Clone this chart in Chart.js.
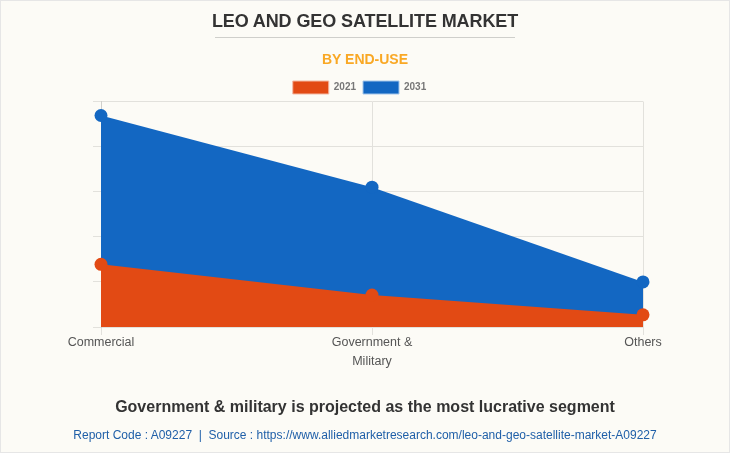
<!DOCTYPE html>
<html lang="en">
<head>
    <meta charset="UTF-8">
    <title>LEO and GEO Satellite Market</title>
    <script src="https://cdn.jsdelivr.net/npm/chart.js"></script>
    <style>
        html, body {
            margin: 0;
            padding: 0;
            background: #fcfbf6;
        }
        .frame {
            position: relative;
            width: 730px;
            height: 453px;
            box-sizing: border-box;
            border: 1px solid #e6e6e6;
            overflow: hidden;
            font-family: 'Liberation Sans', Arial, sans-serif;
        }
        .frame div {
            position: absolute;
            left: -1px;
            width: 730px;
            text-align: center;
            white-space: nowrap;
        }
        .title {
            top: 10px;
            font-size: 18px;
            line-height: 21px;
            font-weight: bold;
            letter-spacing: -0.1px;
            color: #333333;
        }
        .rule {
            top: 36px;
            height: 1px;
            background: #cfcfcb;
            left: 214px !important;
            width: 300px !important;
        }
        .subtitle {
            top: 49px;
            font-size: 14px;
            line-height: 18px;
            font-weight: bold;
            color: #f9a825;
        }
        .headline {
            top: 396px;
            font-size: 16px;
            line-height: 20px;
            font-weight: bold;
            color: #333333;
        }
        .source {
            top: 426px;
            font-size: 12px;
            line-height: 16px;
            color: #1f5fa8;
        }
        canvas {
            position: absolute;
            left: -1px;
            top: -1px;
        }
    </style>
</head>
<body>
    <div class="frame">
        <canvas id="marketChart" width="730" height="453"></canvas>
        <div class="title">LEO AND GEO SATELLITE MARKET</div>
        <div class="rule"></div>
        <div class="subtitle">BY END-USE</div>
        <div class="headline">Government &amp; military is projected as the most lucrative segment</div>
        <div class="source">Report Code : A09227&nbsp; |&nbsp; Source : https://www.alliedmarketresearch.com/leo-and-geo-satellite-market-A09227</div>
    </div>

    <script>
        // values, y axis has no printed labels
        const categories = [['Commercial'], ['Government &', 'Military'], ['Others']];
        const values2021 = [1.39, 0.71, 0.27];
        const values2031 = [4.69, 3.10, 1.00];

        const red = '#e24a14';
        const blue = '#1367c2';
        const gridColor = '#e2e1dc';

        function series(label, data, color, legendBorder) {
            return {
                label: label,
                data: data,
                fill: 'origin',
                tension: 0,
                clip: false,
                backgroundColor: color,
                borderColor: color,
                borderWidth: 0,
                pointRadius: 6.5,
                pointHoverRadius: 6.5,
                pointBackgroundColor: color,
                pointBorderColor: color,
                pointBorderWidth: 0,
                legendBorder: legendBorder
            };
        }

        // legend needs wider item gaps without pushing the plot down
        const legendHeight = {
            id: 'legendHeight',
            beforeInit: function (chart) {
                const fit = chart.legend.fit;
                chart.legend.fit = function () {
                    fit.bind(chart.legend)();
                    this.height = 27.5;
                };
            }
        };

        new Chart(document.getElementById('marketChart').getContext('2d'), {
            type: 'line',
            data: {
                labels: categories,
                datasets: [
                    series('2021', values2021, red, '#f3b9a3'),
                    series('2031', values2031, blue, '#a3c6ea')
                ]
            },
            plugins: [legendHeight],
            options: {
                responsive: false,
                animation: false,
                layout: {
                    padding: { left: 76, right: 87, top: 74, bottom: 66 }
                },
                plugins: {
                    tooltip: { enabled: false },
                    title: { display: false },
                    legend: {
                        display: true,
                        position: 'top',
                        onClick: null,
                        labels: {
                            boxWidth: 36,
                            boxHeight: 13,
                            padding: 7,
                            color: '#777777',
                            font: { family: "'Liberation Sans', Arial, sans-serif", size: 10, weight: 'bold' },
                            generateLabels: function (chart) {
                                return chart.data.datasets.map((ds, i) => ({
                                    text: ds.label,
                                    fillStyle: ds.backgroundColor,
                                    strokeStyle: ds.legendBorder,
                                    lineWidth: 1,
                                    fontColor: '#777777',
                                    datasetIndex: i
                                }));
                            }
                        }
                    }
                },
                scales: {
                    x: {
                        offset: false,
                        grid: { color: gridColor, tickLength: 8 },
                        border: { color: gridColor },
                        ticks: {
                            maxRotation: 0,
                            minRotation: 0,
                            autoSkip: false,
                            padding: -2,
                            color: '#555555',
                            font: { family: "'Liberation Sans', Arial, sans-serif", size: 12.5, lineHeight: 1.5 }
                        },
                        afterFit: function (axis) { axis.height = 60; }
                    },
                    y: {
                        min: 0,
                        max: 5,
                        grid: { color: gridColor, tickLength: 8 },
                        border: { color: '#cfcfcb' },
                        ticks: { stepSize: 1, display: false },
                        afterFit: function (axis) { axis.width = 25; }
                    }
                }
            }
        });
    </script>
</body>
</html>
